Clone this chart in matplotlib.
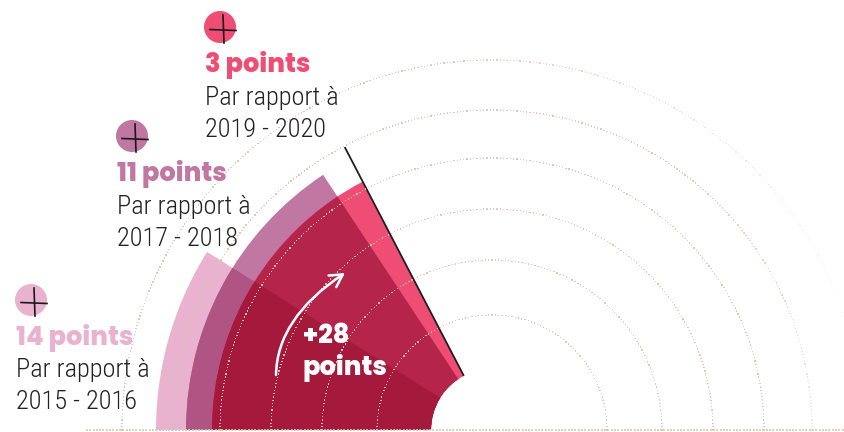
import numpy as np
import matplotlib
matplotlib.use("Agg")
import matplotlib.pyplot as plt
from matplotlib.patches import Wedge, Circle, FancyArrowPatch
from matplotlib.path import Path
from itertools import combinations

# Comparison periods, gap in points, and the sector each one spans
periods = ["2015 - 2016", "2017 - 2018", "2019 - 2020"]
gap_points = [14, 11, 3]
sweep_deg = [32.0, 56.5, 62.5]
outer_radius = [336, 306, 280]
total_gain = 28
ring_radius = [115, 170, 221, 272, 320, 370]

colors = ["#e9b3d0", "#c077a1", "#f04d75"]

W, H = 845, 432
fig = plt.figure(figsize=(W / 100, H / 100), dpi=100)
ax = fig.add_axes([0, 0, 1, 1])
ax.set_xlim(0, W)
ax.set_ylim(0, H)
ax.set_aspect("equal")
ax.axis("off")

cx, cy = 492, 2
r_in = 61

# Sectors blended with a multiply effect: every overlap gets the product colour
rgb = [np.array(matplotlib.colors.to_rgb(c)) for c in colors]
z = 2
for k in range(1, len(periods) + 1):
    for combo in combinations(range(len(periods)), k):
        sw = min(sweep_deg[i] for i in combo)
        r = min(outer_radius[i] for i in combo)
        col = np.prod([rgb[i] for i in combo], axis=0)
        ax.add_patch(Wedge((cx, cy), r, 180 - sw, 180, width=r - r_in,
                           facecolor=col, edgecolor="none", zorder=z))
        z += 0.01

# Edge line of the widest sector
ang = np.deg2rad(180 - max(sweep_deg))
ax.plot([cx + r_in * np.cos(ang), cx + 319 * np.cos(ang)],
        [cy + r_in * np.sin(ang), cy + 319 * np.sin(ang)],
        color="#1e1e1e", lw=1.3, zorder=4, solid_capstyle="butt")

# Dotted concentric rings
dot_rgb = np.array(matplotlib.colors.to_rgb("#d3c7b8"))
for j, r in enumerate(ring_radius):
    n = int(np.pi * r / 3.3)
    th = np.linspace(np.pi, 0, n)
    deg = np.rad2deg(th)
    if j == len(ring_radius) - 1:
        a = np.clip((deg - 15) / 80, 0, 1) * 0.9
    elif j == len(ring_radius) - 2:
        a = 0.4 + 0.5 * np.clip(deg / 60, 0, 1)
    else:
        a = np.full(n, 0.9)
    cols = np.column_stack([np.tile(dot_rgb, (n, 1)), a])
    ax.scatter(cx + r * np.cos(th), cy + r * np.sin(th), s=0.9, c=cols,
               marker="s", linewidths=0, zorder=5)

xs = np.arange(87, W, 3.3)
ax.scatter(xs, np.full(xs.size, 1.5), s=0.9, color=dot_rgb, alpha=0.8,
           marker="s", linewidths=0, zorder=5)

# Labels with their round markers
bold_font = dict(family=["Poppins", "Lato", "DejaVu Sans"], weight=800, size=18.5)
body_font = dict(family=["Roboto Condensed", "DejaVu Sans"], weight="light",
                 size=19, color="#222222")
label_pos = [(16, 300), (117, 136), (205, 27)]
for i, (x0, ym) in enumerate(label_pos):
    top = H - ym
    ax.add_patch(Circle((x0 + 15, top), 16, facecolor=colors[i],
                        edgecolor="none", zorder=6))
    ax.plot([x0 + 5, x0 + 31], [top - 2.5, top - 3.5], color="#1a1a1a",
            lw=1.2, zorder=7)
    ax.plot([x0 + 18, x0 + 19], [top + 12, top - 16], color="#1a1a1a",
            lw=1.2, zorder=7)
    ax.text(x0, top - 45, f"{gap_points[i]} points", color=colors[i],
            va="baseline", ha="left", zorder=7, **bold_font)
    ax.text(x0, top - 77.5, "Par rapport à", va="baseline", ha="left",
            zorder=7, **body_font)
    ax.text(x0, top - 109.5, periods[i], va="baseline", ha="left",
            zorder=7, **body_font)

# Curved arrow and the total gain
verts = [(276, H - 375), (277, H - 318), (345, H - 273)]
arrow = FancyArrowPatch(path=Path(verts, [Path.MOVETO, Path.CURVE3, Path.CURVE3]),
                        arrowstyle="->,head_length=9,head_width=5",
                        color="white", lw=1.8, zorder=8)
ax.add_patch(arrow)
ax.text(303, H - 343, f"+{total_gain}", color="white", va="baseline",
        ha="left", zorder=8, **bold_font)
ax.text(303, H - 375, "points", color="white", va="baseline", ha="left",
        zorder=8, **bold_font)

fig.savefig("out.png", dpi=100)
